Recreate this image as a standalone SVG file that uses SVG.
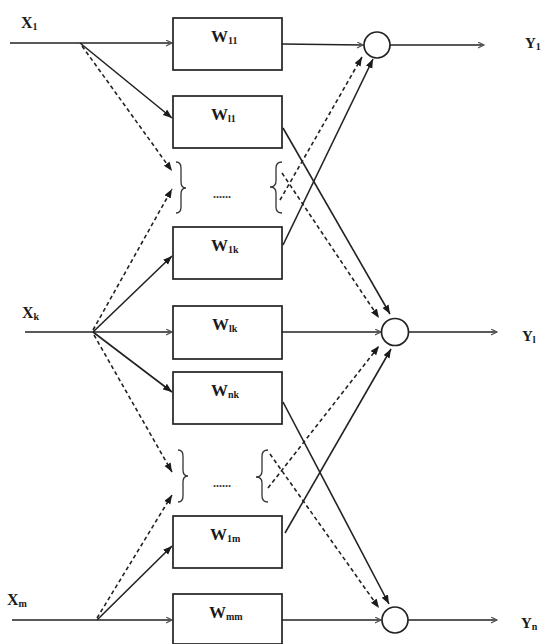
<svg xmlns="http://www.w3.org/2000/svg" width="545" height="644" viewBox="0 0 545 644">
<style>
.ln{stroke:#222;stroke-width:1.6;fill:none}
.ds{stroke:#222;stroke-width:1.6;fill:none;stroke-dasharray:4,3}
.bx{stroke:#222;stroke-width:1.7;fill:#fff}
.cc{stroke:#222;stroke-width:1.7;fill:#fff}
.br{stroke:#333;stroke-width:1.3;fill:none}
.t{font-family:"Liberation Serif",serif;font-weight:bold;fill:#1a1a1a}
.w{font-size:17px}
.s{font-size:10px}
.dots{font-family:"Liberation Serif",serif;font-weight:bold;font-size:12px;fill:#333}
</style>
<defs>
<marker id="ah" markerUnits="userSpaceOnUse" markerWidth="10" markerHeight="8" refX="9" refY="3.5" orient="auto">
<path d="M0,0 L9,3.5 L0,7 z" fill="#1a1a1a"/>
</marker>
<marker id="sh" markerUnits="userSpaceOnUse" markerWidth="8" markerHeight="8" refX="6" refY="3" orient="auto">
<path d="M0,0 L6,3 L0,6" fill="none" stroke="#555" stroke-width="1.2"/>
</marker>
</defs>
<g id="connectors">
<line class="ln" x1="10" y1="43" x2="172" y2="43" marker-end="url(#sh)"/>
<line class="ln" x1="25" y1="332" x2="172" y2="332" marker-end="url(#sh)"/>
<line class="ln" x1="12" y1="620" x2="172" y2="620" marker-end="url(#sh)"/>
<line class="ln" x1="80" y1="43" x2="172" y2="118" marker-end="url(#ah)"/>
<line class="ds" x1="82" y1="46" x2="172" y2="171" marker-end="url(#ah)"/>
<line class="ln" x1="93" y1="332" x2="172" y2="256" marker-end="url(#ah)"/>
<line class="ds" x1="93" y1="330" x2="172" y2="189" marker-end="url(#ah)"/>
<line class="ln" x1="93" y1="332" x2="172" y2="392" marker-end="url(#ah)"/>
<line class="ds" x1="94" y1="335" x2="172" y2="472" marker-end="url(#ah)"/>
<line class="ln" x1="97" y1="620" x2="172" y2="546" marker-end="url(#ah)"/>
<line class="ds" x1="97" y1="618" x2="172" y2="495" marker-end="url(#ah)"/>
<line class="ln" x1="282" y1="44" x2="363" y2="45" marker-end="url(#sh)"/>
<line class="ln" x1="282" y1="332" x2="381" y2="332" marker-end="url(#sh)"/>
<line class="ln" x1="282" y1="620" x2="381" y2="620" marker-end="url(#sh)"/>
<line class="ln" x1="390" y1="45" x2="484" y2="45" marker-end="url(#sh)"/>
<line class="ln" x1="409" y1="332" x2="497" y2="332" marker-end="url(#sh)"/>
<line class="ln" x1="408" y1="620" x2="497" y2="620" marker-end="url(#sh)"/>
<line class="ln" x1="283" y1="128" x2="390" y2="314" marker-end="url(#ah)"/>
<line class="ln" x1="283" y1="245" x2="373" y2="59" marker-end="url(#ah)"/>
<line class="ln" x1="283" y1="402" x2="389" y2="604" marker-end="url(#ah)"/>
<line class="ln" x1="285" y1="533" x2="391" y2="349" marker-end="url(#ah)"/>
<line class="ds" x1="280" y1="200" x2="362" y2="57" marker-end="url(#ah)"/>
<line class="ds" x1="282" y1="173" x2="379" y2="318" marker-end="url(#ah)"/>
<line class="ds" x1="268" y1="488" x2="379" y2="346" marker-end="url(#ah)"/>
<line class="ds" x1="270" y1="454" x2="379" y2="608" marker-end="url(#ah)"/>
</g>
<g id="brace-upper-left"><path class="br" d="M176,162 Q181,162 181,168 L181,182 Q181,188 186,188 Q181,188 181,194 L181,207 Q181,213 176,213"/></g>
<g id="brace-upper-right"><path class="br" d="M282,162 Q276,162 276,168 L276,181 Q276,187 270,187 Q276,187 276,193 L276,207 Q276,213 282,213"/></g>
<g id="brace-lower-left"><path class="br" d="M178,450 Q183,450 183,456 L183,470 Q183,476 188,476 Q183,476 183,482 L183,496 Q183,502 178,502"/></g>
<g id="brace-lower-right"><path class="br" d="M268,450 Q262,450 262,456 L262,471 Q262,477 256,477 Q262,477 262,483 L262,496 Q262,502 268,502"/></g>
<text class="dots" x="213" y="198">......</text>
<text class="dots" x="213" y="487">......</text>
<g id="box-w11"><rect class="bx" x="173" y="18" width="109" height="52"/><text class="t w" x="211" y="42">W<tspan class="s" dy="2">11</tspan></text></g>
<g id="box-wl1"><rect class="bx" x="173" y="96" width="109" height="52"/><text class="t w" x="211" y="120">W<tspan class="s" dy="2">l1</tspan></text></g>
<g id="box-w1k"><rect class="bx" x="173" y="227" width="109" height="52"/><text class="t w" x="211" y="251">W<tspan class="s" dy="2">1k</tspan></text></g>
<g id="box-wlk"><rect class="bx" x="173" y="306" width="109" height="53"/><text class="t w" x="212" y="330">W<tspan class="s" dy="2">lk</tspan></text></g>
<g id="box-wnk"><rect class="bx" x="173" y="372" width="109" height="52"/><text class="t w" x="211" y="396">W<tspan class="s" dy="2">nk</tspan></text></g>
<g id="box-w1m"><rect class="bx" x="173" y="516" width="109" height="52"/><text class="t w" x="210" y="540">W<tspan class="s" dy="2">1m</tspan></text></g>
<g id="box-wmm"><rect class="bx" x="173" y="594" width="109" height="50"/><text class="t w" x="209" y="618">W<tspan class="s" dy="2">mm</tspan></text></g>
<g id="sum-1"><circle class="cc" cx="377" cy="45" r="13"/></g>
<g id="sum-l"><circle class="cc" cx="395" cy="332" r="13.5"/></g>
<g id="sum-n"><circle class="cc" cx="395" cy="620" r="13"/></g>
<g id="label-x1"><text class="t" font-size="16" x="21" y="28">X<tspan class="s" dy="2">1</tspan></text></g>
<g id="label-xk"><text class="t" font-size="16" x="22" y="318">X<tspan class="s" dy="2">k</tspan></text></g>
<g id="label-xm"><text class="t" font-size="16" x="7" y="605">X<tspan class="s" dy="2">m</tspan></text></g>
<g id="label-y1"><text class="t" font-size="15" x="525" y="48">Y<tspan class="s" dy="2">1</tspan></text></g>
<g id="label-yl"><text class="t" font-size="15" x="522" y="341">Y<tspan class="s" dy="2">l</tspan></text></g>
<g id="label-yn"><text class="t" font-size="15" x="521" y="628">Y<tspan class="s" dy="2">n</tspan></text></g>
</svg>
